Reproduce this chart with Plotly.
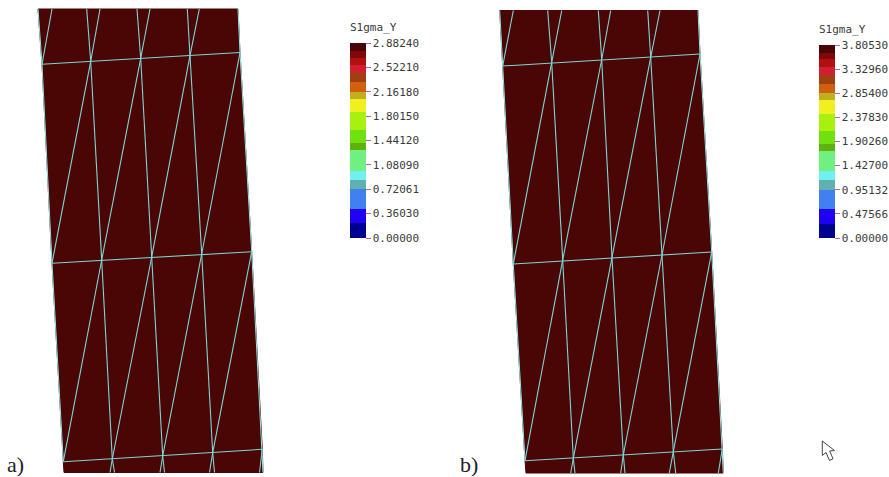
import plotly.graph_objects as go

# Mesh nodes of panel a (image pixels)
a_row0_top = [(52, 9), (86.7, 9), (100, 9), (137, 9), (150, 9), (187.3, 9), (199.3, 9)]
a_row1 = [(42, 64.3), (90.7, 61.3), (140.7, 58.3), (190, 55.7), (240, 52.5)]
a_row2 = [(52, 263.3), (101.7, 260), (151.7, 257), (201.7, 254), (251.7, 251.7)]
a_row3 = [(63.3, 461.7), (112.3, 459), (162.7, 456), (212.7, 452.7), (262.3, 449.3)]
a_row4_bottom = [(110, 472.5), (114.5, 472.5), (160, 472.5), (164.5, 472.5), (209.5, 472.5), (214.5, 472.5), (259.5, 472.5)]
a_corners = [(38, 9), (238, 9), (240, 52.5), (251.7, 251.7), (262.3, 449.3), (263, 472.5), (64, 472.5), (63.3, 461.7), (52, 263.3), (42, 64.3)]

# Mesh nodes of panel b
b_row0_top = [(513.3, 10.5), (547.7, 10.5), (561.7, 10.5), (598.3, 10.5), (610.7, 10.5), (647.7, 10.5), (660, 10.5)]
b_row1 = [(502.7, 66), (551.7, 62.3), (601.7, 59.5), (650.7, 57.3), (700, 54)]
b_row2 = [(513.3, 264), (562.7, 260), (612, 257.3), (662, 255), (711.7, 252)]
b_row3 = [(525, 460.7), (573.3, 458.3), (623.3, 455), (673.3, 451.7), (722.3, 449)]
b_row4_bottom = [(570.7, 473), (575, 473), (620.7, 473), (625, 473), (669.3, 473), (675.7, 473), (718.3, 473)]
b_corners = [(499.7, 10.5), (698, 10.5), (700, 54), (711.7, 252), (722.3, 449), (723.3, 473), (526, 473), (525, 460.7), (513.3, 264), (502.7, 66)]

# Colour-bar labels
a_ticks = ["0.00000", "0.36030", "0.72061", "1.08090", "1.44120", "1.80150", "2.16180", "2.52210", "2.88240"]
b_ticks = ["0.00000", "0.47566", "0.95132", "1.42700", "1.90260", "2.37830", "2.85400", "3.32960", "3.80530"]
bar_title = "S1gma_Y"

# Colour bands, bottom to top: (upper limit as fraction of the bar, colour)
bands = [
    (0.075, "#000090"), (0.15, "#2000f0"), (0.25, "#4080f0"), (0.30, "#60b0b0"),
    (0.345, "#70f0f0"), (0.45, "#70f080"), (0.485, "#60b010"), (0.555, "#70e010"),
    (0.645, "#a8f010"), (0.715, "#f0f020"), (0.75, "#c0b020"), (0.80, "#d06010"),
    (0.845, "#a04010"), (0.885, "#d02030"), (0.925, "#b01010"), (0.96, "#800808"),
    (1.0, "#4a0505"),
]

FILL = "#4a0505"
WIRE = "#7fd6d6"
W, H = 889, 477


def stepped_scale():
    scale, lo = [], 0.0
    for hi, col in bands:
        scale += [[lo, col], [hi, col]]
        lo = hi
    return scale


def mesh_segments(top, r1, r2, r3, bottom):
    segs = []
    segs += [(r1[0], r1[-1]), (r2[0], r2[-1]), (r3[0], r3[-1])]
    segs += [(top[0], r1[0])]
    for i in range(3):
        segs += [(top[1 + 2 * i], r1[i + 1]), (top[2 + 2 * i], r1[i + 1])]
    for up, lowr in ((r1, r2), (r2, r3)):
        for i in range(4):
            segs.append((up[i + 1], lowr[i]))        # diagonal
        for i in range(1, 4):
            segs.append((up[i], lowr[i]))            # near-vertical
    for i in range(3):
        segs += [(r3[i + 1], bottom[2 * i]), (r3[i + 1], bottom[2 * i + 1])]
    segs.append((r3[4], bottom[6]))
    return segs


def xy(segs):
    xs, ys = [], []
    for p, q in segs:
        xs += [p[0], q[0], None]
        ys += [p[1], q[1], None]
    return xs, ys


fig = go.Figure()

panels = [
    (a_corners, a_row0_top, a_row1, a_row2, a_row3, a_row4_bottom, a_ticks, 349.5, 43, 195, 27),
    (b_corners, b_row0_top, b_row1, b_row2, b_row3, b_row4_bottom, b_ticks, 819, 45, 193, 29),
]
for corners, top, r1, r2, r3, bot, ticks, bx, by, blen, ty in panels:
    px = [p[0] for p in corners] + [corners[0][0]]
    py = [p[1] for p in corners] + [corners[0][1]]
    fig.add_trace(go.Scatter(x=px, y=py, mode="lines", fill="toself", fillcolor=FILL,
                             line=dict(color=FILL, width=1), hoverinfo="skip", showlegend=False))
    right = corners[1:6]
    left = corners[7:] + [corners[0]]
    for side in (right, left):
        fig.add_trace(go.Scatter(x=[p[0] for p in side], y=[p[1] for p in side], mode="lines",
                                 line=dict(color="#8fe9e9", width=1), hoverinfo="skip", showlegend=False))
    sx, sy = xy(mesh_segments(top, r1, r2, r3, bot))
    fig.add_trace(go.Scatter(x=sx, y=sy, mode="lines", line=dict(color=WIRE, width=1.1),
                             hoverinfo="skip", showlegend=False))
    vals = [float(t) for t in ticks]
    fig.add_trace(go.Scatter(
        x=[r2[1][0]], y=[r2[1][1] + 30], mode="markers", hoverinfo="skip", showlegend=False,
        marker=dict(size=1, color=[vals[-1]], cmin=0, cmax=vals[-1], colorscale=stepped_scale(),
                    showscale=True,
                    colorbar=dict(
                        x=bx / W, xanchor="left", xpad=0, ypad=0,
                        y=1 - by / H, yanchor="top", yref="paper",
                        lenmode="pixels", len=blen, thicknessmode="pixels", thickness=16,
                        outlinewidth=0, borderwidth=0,
                        tickmode="array", tickvals=vals, ticktext=ticks,
                        ticks="outside", ticklen=5, tickwidth=1, tickcolor="#b060c8",
                        tickfont=dict(family="DejaVu Sans Mono", size=11, color="#3a3a3a"),
                    )),
    ))
    fig.add_annotation(x=bx, y=ty, text=bar_title, showarrow=False, xanchor="left", yanchor="middle",
                       xshift=-2, font=dict(family="DejaVu Sans Mono", size=11, color="#3a3a3a"))

fig.add_annotation(x=5.5, y=464, text="a)", showarrow=False, xanchor="left", yanchor="middle", borderpad=0,
                   font=dict(family="Liberation Serif", size=22, color="#222222"))
fig.add_annotation(x=459, y=464, text="b)", showarrow=False, xanchor="left", yanchor="middle", borderpad=0,
                   font=dict(family="Liberation Serif", size=22, color="#222222"))

fig.update_layout(
    width=W, height=H, margin=dict(l=0, r=0, t=0, b=0),
    paper_bgcolor="white", plot_bgcolor="white", showlegend=False,
    xaxis=dict(range=[0, W], visible=False, fixedrange=True),
    yaxis=dict(range=[H, 0], visible=False, fixedrange=True),
    shapes=[dict(type="path", layer="above",
                 path="M822.3,441 L822.3,455.5 L826,452.5 L829.5,460.5 L833,458.8 L829.7,451 L834.5,450.5 Z",
                 fillcolor="white", line=dict(color="#444444", width=1))],
)
fig.write_html("out.html", config={"displayModeBar": False},
               post_script="document.body.style.margin='0';document.body.style.overflow='hidden';")
